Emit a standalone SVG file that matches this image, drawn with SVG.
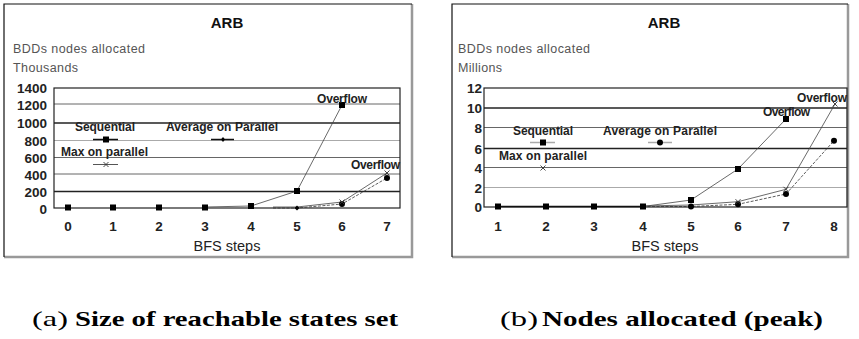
<svg xmlns="http://www.w3.org/2000/svg" width="859" height="339" viewBox="0 0 859 339">
<style>
.bg{fill:#fff}
.edge1{fill:none;stroke:#111;stroke-width:1.2}
.edge2{fill:none;stroke:#999;stroke-width:2.5}
.grid{stroke:#666;stroke-width:1}
.gridd{stroke:#222;stroke-width:1.3}
.gridl{stroke:#aaa;stroke-width:1}
.plot{fill:none;stroke:#222;stroke-width:1.2}
.title{font-family:"Liberation Sans",Arial,sans-serif;font-size:15px;font-weight:bold;fill:#111;text-anchor:middle}
.ylab{font-family:"Liberation Sans",Arial,sans-serif;font-size:12.5px;fill:#555}
.tick{font-family:"Liberation Sans",Arial,sans-serif;font-size:13.5px;font-weight:bold;fill:#222}
.ty{text-anchor:end}
.tx{text-anchor:middle}
.axis{font-family:"Liberation Sans",Arial,sans-serif;font-size:14.5px;fill:#222;text-anchor:middle}
.leg{font-family:"Liberation Sans",Arial,sans-serif;font-size:12px;font-weight:bold;fill:#222}
.data{fill:none;stroke:#444;stroke-width:0.8}
.dash{fill:none;stroke:#333;stroke-width:0.8;stroke-dasharray:3 1.5}
.sq{fill:#000}
.cap{font-family:"Liberation Serif","Times New Roman",serif;font-size:21px;fill:#000}
</style>
<defs>
<rect id="sqm" x="-3" y="-3" width="6" height="6" class="sq"/>
<circle id="dot" r="3" fill="#000"/>
<path id="xm" d="M-2.5,-2.5L2.5,2.5M-2.5,2.5L2.5,-2.5" stroke="#333" stroke-width="0.9" fill="none"/>
</defs>

<g id="chart-a">
<rect x="4" y="4" width="408" height="253" class="bg"/>
<path d="M412,4V257H4" class="edge2"/>
<path d="M4,257V4H412" class="edge1"/>
<text x="227" y="28" class="title">ARB</text>
<text x="13" y="53" class="ylab" textLength="132">BDDs nodes allocated</text>
<text x="13" y="72" class="ylab" textLength="65">Thousands</text>
<g id="grid-a">
<line x1="54" y1="104" x2="400" y2="104" class="grid"/>
<line x1="54" y1="123" x2="400" y2="123" class="gridd"/>
<line x1="54" y1="140.5" x2="400" y2="140.5" class="gridl"/>
<line x1="54" y1="157.5" x2="400" y2="157.5" class="grid"/>
<line x1="54" y1="174" x2="400" y2="174" class="grid"/>
<line x1="54" y1="191.5" x2="400" y2="191.5" class="gridd"/>
<rect x="54" y="88" width="346" height="120" class="plot"/>
</g>
<g id="yticks-a" class="tick ty">
<text x="47" y="93">1400</text>
<text x="47" y="110">1200</text>
<text x="47" y="128">1000</text>
<text x="47" y="146">800</text>
<text x="47" y="163">600</text>
<text x="47" y="180">400</text>
<text x="47" y="197">200</text>
<text x="47" y="214">0</text>
</g>
<g id="xticks-a" class="tick tx">
<text x="68" y="231">0</text>
<text x="113" y="231">1</text>
<text x="159" y="231">2</text>
<text x="205" y="231">3</text>
<text x="251" y="231">4</text>
<text x="297" y="231">5</text>
<text x="342" y="231">6</text>
<text x="387" y="231">7</text>
</g>
<text x="227" y="251" class="axis">BFS steps</text>
<g id="legend-a">
<text x="75" y="131" class="leg" textLength="60">Sequential</text>
<line x1="93" y1="139.5" x2="118" y2="139.5" stroke="#111" stroke-width="1.5"/>
<use href="#sqm" x="106" y="139.5"/>
<text x="166" y="131" class="leg" textLength="112">Average on Parallel</text>
<line x1="211" y1="139.5" x2="234" y2="139.5" stroke="#111" stroke-width="1.5"/>
<path d="M223,137L225,139.5L223,142L221,139.5Z" fill="#000"/>
<text x="61" y="156" class="leg" textLength="87">Max on parallel</text>
<line x1="93" y1="164.5" x2="118" y2="164.5" stroke="#555" stroke-width="1"/>
<use href="#xm" x="106" y="164.5"/>
</g>
<g id="series-a">
<polyline points="205,207 251,206 297,191 342,105" class="data"/>
<polyline points="273,208 297,208 342,204 387,178" class="dash"/>
<polyline points="273,207 297,207 342,202 387,173" class="data"/>
<use href="#sqm" x="68" y="207.5"/>
<use href="#sqm" x="113" y="207.5"/>
<use href="#sqm" x="159" y="207.5"/>
<use href="#sqm" x="205" y="207.5"/>
<use href="#sqm" x="251" y="206"/>
<use href="#sqm" x="297" y="191"/>
<use href="#sqm" x="342" y="105"/>
<path d="M297,205.5L299.5,208L297,210.5L294.5,208Z" fill="#000"/>
<use href="#dot" x="342" y="204"/>
<use href="#dot" x="387" y="178"/>
<use href="#xm" x="342" y="202"/>
<use href="#xm" x="387" y="173"/>
<text x="317" y="103" class="leg" textLength="50">Overflow</text>
<text x="351" y="169" class="leg" textLength="49">Overflow</text>
</g>
</g>

<g id="chart-b">
<rect x="452" y="4" width="396" height="253" class="bg"/>
<path d="M848,4V257H452" class="edge2"/>
<path d="M452,257V4H848" class="edge1"/>
<text x="664" y="28" class="title">ARB</text>
<text x="458" y="53" class="ylab" textLength="132">BDDs nodes allocated</text>
<text x="458" y="72" class="ylab" textLength="44">Millions</text>
<g id="grid-b">
<line x1="484" y1="108" x2="847" y2="108" class="gridd"/>
<line x1="484" y1="127.5" x2="847" y2="127.5" class="grid"/>
<line x1="484" y1="148.5" x2="847" y2="148.5" class="gridd"/>
<line x1="484" y1="167.5" x2="847" y2="167.5" class="grid"/>
<line x1="484" y1="187.5" x2="847" y2="187.5" class="gridl"/>
<rect x="484" y="88" width="363" height="119" class="plot"/>
</g>
<g id="yticks-b" class="tick ty">
<text x="482" y="93">12</text>
<text x="482" y="113">10</text>
<text x="482" y="133">8</text>
<text x="482" y="154">6</text>
<text x="482" y="173">4</text>
<text x="482" y="193">2</text>
<text x="482" y="212">0</text>
</g>
<g id="xticks-b" class="tick tx">
<text x="498" y="231">1</text>
<text x="546" y="231">2</text>
<text x="594" y="231">3</text>
<text x="643" y="231">4</text>
<text x="691" y="231">5</text>
<text x="738" y="231">6</text>
<text x="786" y="231">7</text>
<text x="834" y="231">8</text>
</g>
<text x="665" y="251" class="axis">BFS steps</text>
<g id="legend-b">
<text x="513" y="135" class="leg" textLength="60">Sequential</text>
<line x1="530" y1="142.5" x2="555" y2="142.5" stroke="#aaa" stroke-width="1.5"/>
<use href="#sqm" x="543" y="142.5"/>
<text x="603" y="135" class="leg" textLength="114">Average on Parallel</text>
<line x1="648" y1="142.5" x2="672" y2="142.5" stroke="#aaa" stroke-width="1.5"/>
<use href="#dot" x="660" y="142.5"/>
<text x="499" y="160" class="leg" textLength="88">Max on parallel</text>
<use href="#xm" x="543" y="168"/>
</g>
<g id="series-b">
<polyline points="498,206.5 643,206.5" stroke="#111" stroke-width="1.5" fill="none"/>
<polyline points="643,206.5 691,200 738,169 786,119" class="data"/>
<polyline points="643,206.5 691,206.5 738,204.3 786,194 834,140.7" class="dash"/>
<polyline points="643,206 691,205 738,201.7 786,189.3 835,104" class="data"/>
<use href="#sqm" x="498" y="206.5"/>
<use href="#sqm" x="546" y="206.5"/>
<use href="#sqm" x="594" y="206.5"/>
<use href="#sqm" x="643" y="206.5"/>
<use href="#sqm" x="691" y="200"/>
<use href="#sqm" x="738" y="169"/>
<use href="#sqm" x="786" y="119"/>
<use href="#dot" x="691" y="206.5"/>
<use href="#dot" x="738" y="204.3"/>
<use href="#dot" x="786" y="194"/>
<use href="#dot" x="834" y="140.7"/>
<use href="#xm" x="738" y="201.7"/>
<use href="#xm" x="786" y="189.3"/>
<use href="#xm" x="835" y="104"/>
<text x="797" y="102" class="leg" textLength="50">Overflow</text>
<text x="763" y="116" class="leg" textLength="47">Overflow</text>
</g>
</g>

<g id="captions">
<text x="32" y="326" class="cap" textLength="36" lengthAdjust="spacingAndGlyphs">(a)</text>
<text x="75" y="326" class="cap" font-weight="bold" textLength="323" lengthAdjust="spacingAndGlyphs">Size of reachable states set</text>
<text x="500" y="326" class="cap" textLength="38" lengthAdjust="spacingAndGlyphs">(b)</text>
<text x="542" y="326" class="cap" font-weight="bold" textLength="281" lengthAdjust="spacingAndGlyphs">Nodes allocated (peak)</text>
</g>
</svg>
